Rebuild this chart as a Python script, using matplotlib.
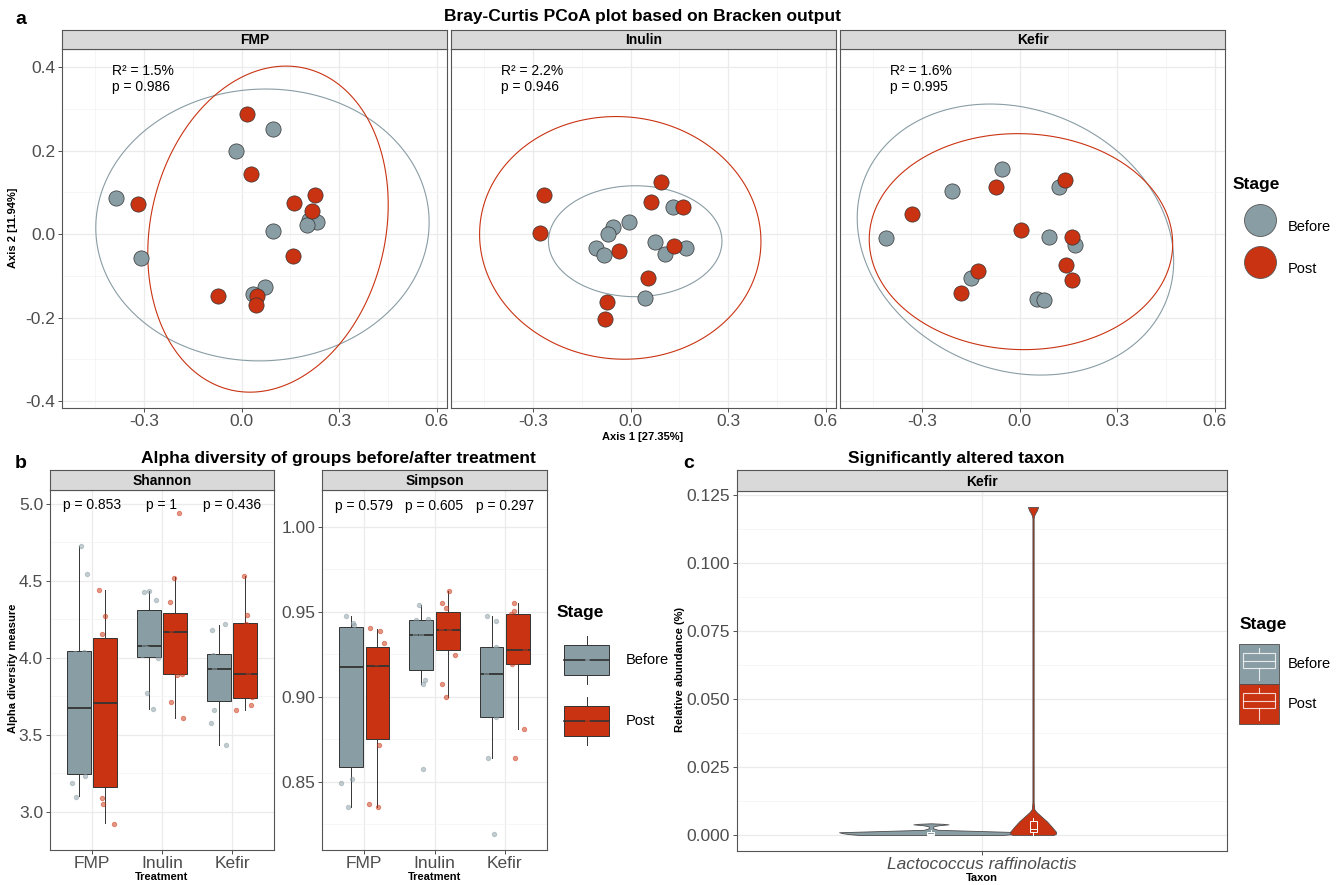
import numpy as np
import matplotlib
matplotlib.use("Agg")
import matplotlib.pyplot as plt
from matplotlib.lines import Line2D
from matplotlib.patches import Patch, Rectangle, Polygon
from matplotlib.legend_handler import HandlerBase

plt.rcParams["font.family"] = ["Liberation Sans", "DejaVu Sans"]
plt.rcParams["axes.unicode_minus"] = False

W, H = 1342, 885
GREY, RED = "#899DA4", "#C93312"
BORDER = "#555555"
stages = ["Before", "Post"]
colour = {"Before": GREY, "Post": RED}
treat = ["FMP", "Inulin", "Kefir"]

# ---------------- a: PCoA scores (Axis 1, Axis 2) ----------------
fmp_before_x = [0.097, -0.017, -0.387, 0.208, 0.231, 0.201, 0.096, -0.309, 0.071, 0.034]
fmp_before_y = [0.251, 0.199, 0.087, 0.034, 0.029, 0.021, 0.008, -0.057, -0.128, -0.144]
fmp_post_x = [0.015, 0.028, 0.227, 0.162, 0.217, -0.320, 0.157, -0.072, 0.048, 0.043]
fmp_post_y = [0.289, 0.145, 0.095, 0.074, 0.056, 0.073, -0.053, -0.149, -0.149, -0.169]
inu_before_x = [0.131, -0.004, -0.053, -0.069, 0.076, -0.108, 0.170, -0.081, 0.107, 0.043]
inu_before_y = [0.066, 0.030, 0.016, 0.000, -0.018, -0.033, -0.033, -0.050, -0.047, -0.153]
inu_post_x = [-0.267, -0.280, 0.092, 0.062, 0.160, -0.037, 0.134, 0.054, -0.072, -0.079]
inu_post_y = [0.095, 0.003, 0.126, 0.077, 0.065, -0.040, -0.029, -0.105, -0.163, -0.203]
kef_before_x = [-0.054, -0.209, 0.120, -0.410, 0.089, 0.171, -0.151, 0.054, 0.074]
kef_before_y = [0.157, 0.103, 0.113, -0.010, -0.006, -0.025, -0.106, -0.156, -0.159]
kef_post_x = [-0.331, -0.074, 0.140, 0.004, 0.160, 0.144, 0.160, -0.129, -0.181]
kef_post_y = [0.048, 0.114, 0.129, 0.011, -0.008, -0.074, -0.109, -0.088, -0.141]

# 95% ellipses: order FMP-B, FMP-P, Inulin-B, Inulin-P, Kefir-B, Kefir-P
ell_cx = [0.064, 0.081, 0.014, -0.032, -0.013, 0.004]
ell_cy = [0.022, 0.012, -0.017, -0.009, -0.013, -0.018]
ell_hx = [0.513, 0.370, 0.267, 0.433, 0.487, 0.467]
ell_hy = [0.326, 0.391, 0.133, 0.291, 0.325, 0.259]
ell_rho = [0.02, 0.15, 0.0, -0.03, -0.16, -0.02]

permanova_r2 = ["1.5%", "2.2%", "1.6%"]
permanova_p = ["0.986", "0.946", "0.995"]

# ---------------- b: alpha diversity ----------------
# box stats: whislo, q1, median, q3, whishi
sh_box_fmp_b = [3.102, 3.245, 3.670, 4.042, 4.729]
sh_box_fmp_p = [2.923, 3.160, 3.706, 4.129, 4.442]
sh_box_inu_b = [3.665, 4.003, 4.078, 4.309, 4.434]
sh_box_inu_p = [3.607, 3.891, 4.169, 4.293, 4.522]
sh_box_kef_b = [3.432, 3.720, 3.924, 4.023, 4.215]
sh_box_kef_p = [3.659, 3.741, 3.893, 4.223, 4.530]
si_box_fmp_b = [0.8353, 0.8585, 0.9175, 0.9410, 0.9476]
si_box_fmp_p = [0.8353, 0.8751, 0.9179, 0.9294, 0.9400]
si_box_inu_b = [0.9073, 0.9155, 0.9365, 0.9449, 0.9541]
si_box_inu_p = [0.8996, 0.9277, 0.9391, 0.9498, 0.9622]
si_box_kef_b = [0.8639, 0.8882, 0.9132, 0.9294, 0.9475]
si_box_kef_p = [0.8812, 0.9194, 0.9273, 0.9488, 0.9553]

# per-sample values and their jitter offsets
sh_fmp_b = [4.728, 4.541, 4.028, 4.036, 3.312, 3.299, 3.228, 3.186, 3.097]
sh_fmp_b_j = [-0.151, -0.066, -0.246, -0.118, -0.128, -0.061, -0.099, -0.284, -0.222]
sh_fmp_p = [4.442, 4.274, 4.156, 4.044, 3.823, 3.581, 3.378, 3.085, 3.049, 2.920]
sh_fmp_p_j = [0.095, 0.180, 0.137, 0.222, 0.194, 0.298, 0.251, 0.147, 0.151, 0.312]
sh_inu_b = [4.425, 4.432, 4.372, 4.120, 4.080, 4.063, 4.015, 3.996, 3.771, 3.666]
sh_inu_b_j = [-0.260, -0.180, -0.090, -0.232, -0.251, -0.217, -0.288, -0.061, -0.213, -0.123]
sh_inu_p = [4.939, 4.518, 4.364, 4.219, 4.183, 3.958, 3.889, 3.893, 3.712, 3.607]
sh_inu_p_j = [0.236, 0.170, 0.109, 0.270, 0.132, 0.241, 0.217, 0.288, 0.128, 0.298]
sh_kef_b = [4.181, 4.219, 4.015, 3.975, 3.924, 3.746, 3.662, 3.575, 3.432]
sh_kef_b_j = [-0.284, -0.099, -0.265, -0.132, -0.255, -0.099, -0.251, -0.298, -0.085]
sh_kef_p = [4.528, 4.276, 4.072, 4.219, 3.859, 3.891, 3.746, 3.658, 3.691]
sh_kef_p_j = [0.170, 0.208, 0.236, 0.194, 0.104, 0.232, 0.288, 0.061, 0.274]

si_fmp_b = [0.9476, 0.9435, 0.9422, 0.9381, 0.9365, 0.8984, 0.8790, 0.8492, 0.8518, 0.8353]
si_fmp_b_j = [-0.264, -0.165, -0.146, -0.122, -0.113, -0.104, -0.254, -0.325, -0.179, -0.231]
si_fmp_p = [0.9402, 0.9385, 0.9318, 0.9228, 0.9196, 0.9163, 0.8849, 0.8716, 0.8367, 0.8353]
si_fmp_p_j = [0.089, 0.226, 0.282, 0.151, 0.174, 0.118, 0.264, 0.217, 0.071, 0.198]
si_inu_b = [0.9541, 0.9453, 0.9457, 0.9435, 0.9369, 0.9367, 0.9316, 0.9100, 0.9073, 0.8575]
si_inu_b_j = [-0.217, -0.259, -0.094, -0.094, -0.198, -0.273, -0.118, -0.141, -0.160, -0.165]
si_inu_p = [0.9622, 0.9553, 0.9520, 0.9476, 0.9392, 0.9394, 0.9341, 0.9308, 0.9247, 0.9073, 0.8996]
si_inu_p_j = [0.202, 0.108, 0.165, 0.061, 0.094, 0.207, 0.235, 0.080, 0.287, 0.108, 0.160]
si_kef_b = [0.9475, 0.9447, 0.9294, 0.9279, 0.9132, 0.9094, 0.8882, 0.8639, 0.8192]
si_kef_b_j = [-0.250, -0.122, -0.122, -0.137, -0.268, -0.122, -0.132, -0.240, -0.151]
si_kef_p = [0.9553, 0.9506, 0.9486, 0.9324, 0.9273, 0.9204, 0.9190, 0.8812, 0.8641]
si_kef_p_j = [0.127, 0.132, 0.090, 0.231, 0.282, 0.165, 0.099, 0.278, 0.146]

shannon_p = ["0.853", "1", "0.436"]
simpson_p = ["0.579", "0.605", "0.297"]

# ---------------- c: Lactococcus raffinolactis in Kefir ----------------
taxon = "Lactococcus raffinolactis"
# violin outline: abundance level and half-width (category units)
vio_before_v = [0.0000, 0.0003, 0.0007, 0.0010, 0.0013, 0.0016, 0.0019, 0.0025, 0.0032, 0.0036, 0.0039, 0.0041, 0.0043]
vio_before_w = [0.176, 0.200, 0.218, 0.225, 0.155, 0.085, 0.017, 0.005, 0.006, 0.020, 0.043, 0.030, 0.000]
vio_post_v = [0.0000, 0.0004, 0.0012, 0.0030, 0.0050, 0.0070, 0.0085, 0.0095, 0.0120, 0.1165, 0.1175, 0.1185, 0.1195, 0.1207]
vio_post_w = [0.050, 0.056, 0.056, 0.046, 0.034, 0.019, 0.008, 0.003, 0.0015, 0.0015, 0.0025, 0.0057, 0.0095, 0.0125]
vio_box_before = [0.0000, 0.00005, 0.0004, 0.0010, 0.0018]
vio_box_post = [0.0001, 0.0012, 0.0023, 0.0052, 0.0062]

pcoa = {"FMP": {"Before": (fmp_before_x, fmp_before_y), "Post": (fmp_post_x, fmp_post_y)},
        "Inulin": {"Before": (inu_before_x, inu_before_y), "Post": (inu_post_x, inu_post_y)},
        "Kefir": {"Before": (kef_before_x, kef_before_y), "Post": (kef_post_x, kef_post_y)}}
shannon = {"FMP": {"Before": (sh_box_fmp_b, sh_fmp_b, sh_fmp_b_j), "Post": (sh_box_fmp_p, sh_fmp_p, sh_fmp_p_j)},
           "Inulin": {"Before": (sh_box_inu_b, sh_inu_b, sh_inu_b_j), "Post": (sh_box_inu_p, sh_inu_p, sh_inu_p_j)},
           "Kefir": {"Before": (sh_box_kef_b, sh_kef_b, sh_kef_b_j), "Post": (sh_box_kef_p, sh_kef_p, sh_kef_p_j)}}
simpson = {"FMP": {"Before": (si_box_fmp_b, si_fmp_b, si_fmp_b_j), "Post": (si_box_fmp_p, si_fmp_p, si_fmp_p_j)},
           "Inulin": {"Before": (si_box_inu_b, si_inu_b, si_inu_b_j), "Post": (si_box_inu_p, si_inu_p, si_inu_p_j)},
           "Kefir": {"Before": (si_box_kef_b, si_kef_b, si_kef_b_j), "Post": (si_box_kef_p, si_kef_p, si_kef_p_j)}}

fig = plt.figure(figsize=(W / 100, H / 100), dpi=100)
FS = 10.5  # legend label size (pt)


def rect(l, t, r, b):
    return [l / W, 1 - b / H, (r - l) / W, (b - t) / H]


def ftext(x, y, s, **kw):
    fig.text(x / W, 1 - y / H, s, ha=kw.pop("ha", "center"), va=kw.pop("va", "center"), **kw)


def style(ax):
    for sp in ax.spines.values():
        sp.set_color(BORDER); sp.set_linewidth(0.8)
    ax.set_axisbelow(True)
    ax.grid(which="major", color="#EBEBEB", lw=0.9)
    ax.grid(which="minor", color="#F3F3F3", lw=0.5)
    ax.tick_params(which="major", labelsize=12.5, labelcolor="#4D4D4D", color="#333333",
                   length=3, width=0.6)
    ax.tick_params(axis="x", pad=1.5)
    ax.tick_params(axis="y", pad=2)
    ax.tick_params(which="minor", length=0)


def strip(ax, label, h):
    bb = ax.get_position()
    s = fig.add_axes([bb.x0, bb.y1, bb.width, h / H])
    s.set_facecolor("#D9D9D9"); s.set_xticks([]); s.set_yticks([])
    for sp in s.spines.values():
        sp.set_color(BORDER); sp.set_linewidth(0.8)
    s.text(0.5, 0.45, label, ha="center", va="center", fontweight="bold", fontsize=10)


def legend(handles, top, left, key_w, key_h, gap, textpad, hmap=None):
    # matplotlib draws the key box fs*(0.65*hh + 0.245) tall; solve for handleheight
    fpx = FS * 100 / 72
    hh = (key_h / fpx - 0.245) / 0.65
    fig.legend(handles=handles, handler_map=hmap, loc="upper left",
               bbox_to_anchor=(left / W, 1 - top / H), frameon=False, fontsize=FS,
               handlelength=key_w / fpx, handleheight=hh, labelspacing=gap / fpx,
               handletextpad=textpad / fpx, borderpad=0, borderaxespad=0)


# ---------------- panel a ----------------
a_boxes = [(62, 49, 447, 408), (451, 49, 836, 408), (840, 49, 1225, 408)]
tt = np.linspace(0, 2 * np.pi, 300, endpoint=False)
for i, t in enumerate(treat):
    ax = fig.add_axes(rect(*a_boxes[i]))
    style(ax)
    for j, s in enumerate(stages):
        k = 2 * i + j
        hx, hy, r = ell_hx[k], ell_hy[k], ell_rho[k]
        L = np.linalg.cholesky(np.array([[hx * hx, r * hx * hy], [r * hx * hy, hy * hy]]))
        e = L @ np.vstack([np.cos(tt), np.sin(tt)])
        ax.add_patch(Polygon(np.column_stack([ell_cx[k] + e[0], ell_cy[k] + e[1]]), closed=True,
                             fill=False, edgecolor=colour[s], lw=0.8, zorder=2))
    for s in stages:
        x, y = pcoa[t][s]
        ax.scatter(x, y, s=120, c=colour[s], edgecolors="#333333", linewidths=0.5, zorder=3)
    ax.set_xlim(-0.553, 0.632); ax.set_ylim(-0.417, 0.444)
    ax.set_xticks([-0.3, 0.0, 0.3, 0.6]); ax.set_xticklabels(["-0.3", "0.0", "0.3", "0.6"])
    ax.set_xticks([-0.45, -0.15, 0.15, 0.45], minor=True)
    ax.set_yticks([-0.4, -0.2, 0.0, 0.2, 0.4])
    ax.set_yticks([-0.3, -0.1, 0.1, 0.3], minor=True)
    if i == 0:
        ax.set_yticklabels(["-0.4", "-0.2", "0.0", "0.2", "0.4"])
    else:
        ax.tick_params(axis="y", which="both", length=0, labelleft=False)
    ax.text(-0.40, 0.372, f"R² = {permanova_r2[i]}\np = {permanova_p[i]}", ha="left",
            va="center", fontsize=10, linespacing=1.25)
    strip(ax, t, 19)

ftext(15, 20, "a", fontweight="bold", fontsize=14, ha="left")
ftext(643, 17, "Bray-Curtis PCoA plot based on Bracken output", fontweight="bold", fontsize=12.5)
ftext(13, 228, "Axis 2 [11.94%]", fontweight="bold", fontsize=8, rotation=90)
ftext(643, 437, "Axis 1 [27.35%]", fontweight="bold", fontsize=8)

ftext(1233, 185, "Stage", fontweight="bold", fontsize=12.5, ha="left")
legend([Line2D([], [], ls="none", marker="o", ms=23, mfc=colour[s], mec="#555555",
               mew=0.6, label=s) for s in stages],
       top=209, left=1236, key_w=48, key_h=36, gap=6, textpad=4)

# ---------------- panel b ----------------
OFF = {"Before": -0.1875, "Post": 0.1875}
BW = 0.3375


def alpha_panel(box, data, ylim, ticks, minor, fmt, pvals, py, title):
    ax = fig.add_axes(rect(*box))
    style(ax)
    cats = np.arange(1, len(treat) + 1)
    for c, t in zip(cats, treat):
        for s in stages:
            st, vals, jit = data[t][s]
            ax.bxp([dict(whislo=st[0], q1=st[1], med=st[2], q3=st[3], whishi=st[4], fliers=[])],
                   positions=[c + OFF[s]], widths=BW, patch_artist=True, showcaps=False,
                   showfliers=False, manage_ticks=False,
                   boxprops=dict(facecolor=colour[s], edgecolor="#333333", linewidth=0.7),
                   medianprops=dict(color="#333333", linewidth=1.3),
                   whiskerprops=dict(color="#333333", linewidth=0.7))
            ax.scatter(c + np.array(jit), vals, s=10, facecolors=colour[s], alpha=0.5,
                       edgecolors=colour[s], linewidths=0.7, zorder=4)
    for c, p in zip(cats, pvals):
        ax.text(c, py, f"p = {p}", ha="center", va="center", fontsize=10)
    ax.set_xlim(0.4, 3.6); ax.set_ylim(*ylim)
    ax.set_xticks(cats); ax.set_xticklabels(treat)
    ax.set_yticks(ticks); ax.set_yticklabels([fmt.format(v) for v in ticks])
    ax.set_yticks(minor, minor=True)
    strip(ax, title, 20)
    return ax


alpha_panel((50, 490, 274, 850), shannon, (2.818, 5.09), [3.0, 3.5, 4.0, 4.5, 5.0],
            [2.75 + 0.5 * k for k in range(5)], "{:.1f}", shannon_p, 4.99, "Shannon")
alpha_panel((322, 490, 547, 850), simpson, (0.8098, 1.0216), [0.85, 0.90, 0.95, 1.00],
            [0.825, 0.875, 0.925, 0.975], "{:.2f}", simpson_p, 1.012, "Simpson")

ftext(15, 463, "b", fontweight="bold", fontsize=14, ha="left")
ftext(338, 458, "Alpha diversity of groups before/after treatment", fontweight="bold", fontsize=12.5)
ftext(13, 668, "Alpha diversity measure", fontweight="bold", fontsize=8, rotation=90)
ftext(162, 877, "Treatment", fontweight="bold", fontsize=8)
ftext(435, 877, "Treatment", fontweight="bold", fontsize=8)


class BoxKey(HandlerBase):
    def create_artists(self, legend, h, xd, yd, w, ht, fs, trans):
        x0, y0 = -xd, -yd
        fc = h.get_facecolor()
        wl = Line2D([x0 + w / 2] * 2, [y0, y0 + ht], color="#333333", lw=0.7, transform=trans)
        bx = Rectangle((x0, y0 + 0.19 * ht), w, 0.62 * ht, facecolor=fc, edgecolor="#333333",
                       lw=0.7, transform=trans)
        md = Line2D([x0, x0 + w], [y0 + 0.5 * ht] * 2, color="#333333", lw=1.2, transform=trans)
        dot = Line2D([x0 + w / 2], [y0 + 0.5 * ht], ls="none", marker="o", ms=2.5, mfc=fc,
                     mec=fc, alpha=0.7, transform=trans)
        return [wl, bx, md, dot]


ftext(557, 613, "Stage", fontweight="bold", fontsize=12.5, ha="left")
legend([Patch(facecolor=colour[s], label=s) for s in stages], top=636, left=564,
       key_w=45, key_h=48, gap=13, textpad=17, hmap={Patch: BoxKey()})

# ---------------- panel c ----------------
axc = fig.add_axes(rect(737, 491, 1227, 851))
style(axc)
for s, vv, ww, bs, pos in [("Before", vio_before_v, vio_before_w, vio_box_before, 0.875),
                           ("Post", vio_post_v, vio_post_w, vio_box_post, 1.125)]:
    vv, ww = np.array(vv), np.array(ww)
    axc.fill_betweenx(vv, pos - ww, pos + ww, facecolor=colour[s], edgecolor="#4D4D4D",
                      linewidth=0.6, zorder=2)
    axc.bxp([dict(whislo=bs[0], q1=bs[1], med=bs[2], q3=bs[3], whishi=bs[4], fliers=[])],
            positions=[pos], widths=0.017, patch_artist=True, showcaps=False,
            showfliers=False, manage_ticks=False,
            boxprops=dict(facecolor=colour[s], edgecolor="white", linewidth=0.7),
            medianprops=dict(color="white", linewidth=0.7),
            whiskerprops=dict(color="white", linewidth=0.7))
axc.set_xlim(0.4, 1.6); axc.set_ylim(-0.0059, 0.1266)
axc.set_xticks([1]); axc.set_xticklabels([taxon], fontstyle="italic")
axc.set_yticks([0, 0.025, 0.05, 0.075, 0.1, 0.125])
axc.set_yticklabels(["0.000", "0.025", "0.050", "0.075", "0.100", "0.125"])
axc.set_yticks([0.0125 + 0.025 * k for k in range(5)], minor=True)
strip(axc, "Kefir", 21)

ftext(683, 463, "c", fontweight="bold", fontsize=14, ha="left")
ftext(956, 458, "Significantly altered taxon", fontweight="bold", fontsize=12.5)
ftext(680, 670, "Relative abundance (%)", fontweight="bold", fontsize=8, rotation=90)
ftext(982, 878, "Taxon", fontweight="bold", fontsize=8)


class ViolinKey(HandlerBase):
    def create_artists(self, legend, h, xd, yd, w, ht, fs, trans):
        x0, y0 = -xd, -yd
        fc = h.get_facecolor()
        bg = Rectangle((x0, y0), w, ht, facecolor=fc, edgecolor="#4D4D4D", lw=0.6, transform=trans)
        kw = dict(color="white", lw=0.8, alpha=0.8, transform=trans)
        bx = Rectangle((x0 + 0.1 * w, y0 + 0.39 * ht), 0.8 * w, 0.38 * ht, facecolor="none",
                       edgecolor="white", lw=0.8, alpha=0.8, transform=trans)
        md = Line2D([x0 + 0.1 * w, x0 + 0.9 * w], [y0 + 0.575 * ht] * 2, **kw)
        w1 = Line2D([x0 + w / 2] * 2, [y0 + 0.1 * ht, y0 + 0.39 * ht], **kw)
        w2 = Line2D([x0 + w / 2] * 2, [y0 + 0.77 * ht, y0 + 0.89 * ht], **kw)
        return [bg, bx, md, w1, w2]


ftext(1240, 625, "Stage", fontweight="bold", fontsize=12.5, ha="left")
legend([Patch(facecolor=colour[s], label=s) for s in stages], top=644, left=1239,
       key_w=40, key_h=40, gap=0, textpad=9, hmap={Patch: ViolinKey()})

fig.savefig("out.png", dpi=100)
